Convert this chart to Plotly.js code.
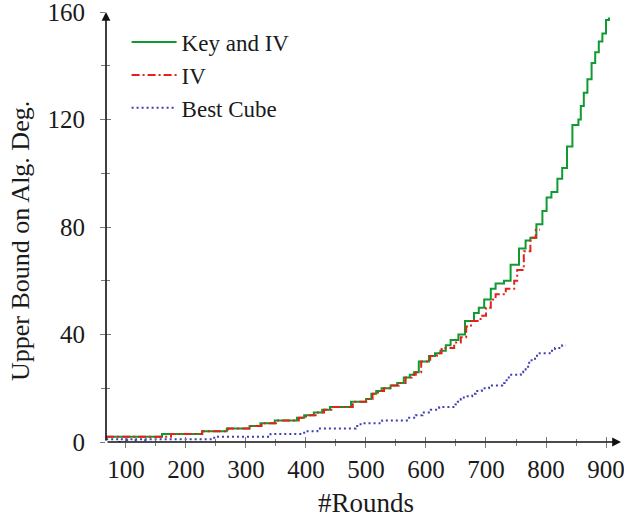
<!DOCTYPE html>
<html>
<head>
<meta charset="utf-8">
<script src="https://cdn.plot.ly/plotly-3.0.1.min.js"></script>
<style>html,body{margin:0;padding:0;background:#fff;}#chart{width:624px;height:521px;}</style>
</head>
<body>
<div id="chart"></div>
<script>
// Key and IV (step function: value from each round onward)
const keyIvRounds = [67,160,227,268,306,324,348,385,397,413,427,440,475,500,509,517,526,541,552,563,573,580,588,605,615,624,633,641,654,665,680,688,697,708,716,730,741,755,766,774,784,794,801,809,819,827,835,844,854,858,863,869,876,882,888,894,900,905];
const keyIvDeg    = [2,3,4,5,6,7,8,9,10,11,12,13,15,16,18,19,20,21,22,24,25,26,30,32,33,34,36,38,40,45,48,50,53,57,59,60,66,72,75,76,81,86,91,93,98,102,110,118,120,125,130,135,141,145,149,152,157,158];

// IV
const ivRounds = [67,175,227,270,308,326,350,388,400,418,430,445,478,503,511,520,530,543,555,566,576,583,592,607,618,626,647,658,667,675,691,700,708,716,733,747,752,763,774,783,790];
const ivDeg    = [2,3,4,5,6,7,8,9,10,11,12,13,15,16,18,19,20,21,22,24,25,26,30,32,33,35,37,39,43,45,47,50,53,55,57,60,64,71,76,79,79];

// Best Cube
const cubeRounds = [67,89,90,101,102,116,117,132,133,247,341,397,419,483,491,527,572,583,594,608,622,649,653,658,663,677,683,693,705,727,731,738,758,762,766,772,776,785,810,815,827,833];
const cubeDeg    = [1,0,1,0,1,0,1,0,1,2,3,4,5,6,7,8,9,10,11,12,13,14,15,16,17,18,19,20,21,22,23,25,26,27,28,30,31,33,34,35,36,36];

const xTicks = [100,200,300,400,500,600,700,800,900];
const yTicks = [0,40,80,120,160];

const serif = "Liberation Serif, Times New Roman, serif";
const xMin = 66.7, xMax = 925, yMin = 0, yMax = 160;

const traces = [
  {x: keyIvRounds, y: keyIvDeg, name: "Key and IV", mode: "lines",
   line: {shape: "hv", color: "#0f9a32", width: 2}},
  {x: ivRounds, y: ivDeg, name: "IV", mode: "lines",
   line: {shape: "hv", color: "#e2231a", width: 2, dash: "8px,3px,2px,3px"}},
  {x: cubeRounds, y: cubeDeg, name: "Best Cube", mode: "lines",
   line: {shape: "hv", color: "#3f3fb0", width: 2, dash: "2px,3px"}}
];

const tickColor = "#7a7a7a";
const textColor = "#1a1a1a";
const layout = {
  width: 624, height: 521,
  margin: {l: 106, r: 3, t: 12, b: 79},
  paper_bgcolor: "#fff", plot_bgcolor: "#fff",
  showlegend: true,
  legend: {x: 0.04, y: 0.98, xanchor: "left", yanchor: "top",
           bgcolor: "rgba(0,0,0,0)", borderwidth: 0,
           font: {family: serif, size: 23, color: textColor},
           itemwidth: 45, tracegroupgap: 0},
  xaxis: {range: [xMin, xMax], tickvals: xTicks, ticktext: xTicks.map(String),
          showgrid: false, zeroline: false, showline: false,
          ticks: "outside", ticklen: 5, tickwidth: 1, tickcolor: tickColor,
          ticklabeloverflow: "allow",
          minor: {dtick: 50, tick0: 0, ticks: "outside", ticklen: 3, tickwidth: 1, tickcolor: tickColor},
          tickfont: {family: serif, size: 25, color: textColor}},
  yaxis: {range: [yMin, yMax + 0.01], tickvals: yTicks, ticktext: yTicks.map(String),
          showgrid: false, zeroline: false, showline: false,
          ticks: "outside", ticklen: 5, tickwidth: 1, tickcolor: tickColor,
          ticklabelstandoff: 10, ticklabeloverflow: "allow",
          minor: {dtick: 20, tick0: 0, ticks: "outside", ticklen: 4, tickwidth: 1, tickcolor: tickColor},
          tickfont: {family: serif, size: 25, color: textColor}},
  xaxis2: {overlaying: "x", matches: "x", anchor: "y", side: "bottom", showticklabels: false,
           showgrid: false, zeroline: false, showline: false,
           ticks: "inside", ticklen: 5, tickwidth: 1, tickcolor: tickColor, tickvals: xTicks,
           minor: {dtick: 50, tick0: 0, ticks: "inside", ticklen: 3, tickwidth: 1, tickcolor: tickColor}},
  yaxis2: {overlaying: "y", matches: "y", anchor: "x", side: "left", showticklabels: false,
           showgrid: false, zeroline: false, showline: false,
           ticks: "inside", ticklen: 5, tickwidth: 1, tickcolor: tickColor, tickvals: yTicks,
           minor: {dtick: 20, tick0: 0, ticks: "inside", ticklen: 4, tickwidth: 1, tickcolor: tickColor}},
  annotations: [
    {x: xMax, y: yMin, ax: xMin, ay: yMin, xref: "x", yref: "y", axref: "x", ayref: "y",
     text: "", showarrow: true, arrowhead: 2, arrowsize: 1.1, arrowwidth: 1.6, arrowcolor: "#111"},
    {x: xMin, y: yMax, ax: xMin, ay: yMin, xref: "x", yref: "y", axref: "x", ayref: "y",
     text: "", showarrow: true, arrowhead: 2, arrowsize: 1.1, arrowwidth: 1.6, arrowcolor: "#111"},
    {text: "#Rounds", xref: "paper", yref: "paper", x: 0.505, y: -0.142,
     xanchor: "center", yanchor: "middle", showarrow: false,
     font: {family: serif, size: 27, color: textColor}},
    {text: "Upper Bound on Alg. Deg.", xref: "paper", yref: "paper", x: -0.167, y: 0.4674,
     xanchor: "center", yanchor: "middle", textangle: -90, showarrow: false,
     font: {family: serif, size: 26, color: textColor}}
  ]
};

traces.push({x: [], y: [], xaxis: "x2", yaxis: "y2", showlegend: false, hoverinfo: "skip"});

Plotly.newPlot("chart", traces, layout, {staticPlot: true, displayModeBar: false});
</script>
</body>
</html>
